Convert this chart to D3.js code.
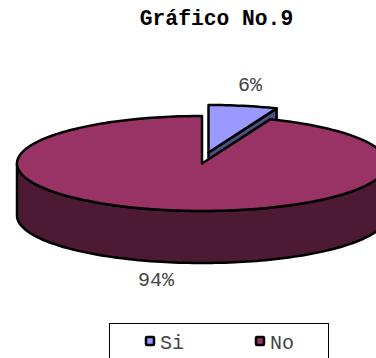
<!DOCTYPE html>
<html>
<head>
<meta charset="utf-8">
<script src="https://cdn.jsdelivr.net/npm/d3@7"></script>
<style>
html,body{margin:0;padding:0;background:#fff;overflow:hidden}
svg{display:block}
text{font-family:"Liberation Mono",monospace}
</style>
</head>
<body>
<svg id="chart" width="376" height="358"></svg>
<script>
const chartTitle = "Gráfico No.9";
const categories = ["Si", "No"];
const values = [6, 94];
const topColors = ["#9999FF", "#993366"];
const sideColors = ["#4D4D80", "#4D1A33"];

const svg = d3.select("#chart");

// Tilted-disc projection: unit circle coordinates mapped to screen pixels.
const cx = 202, cy = 163.5, rx = 185, ry = 47.5, depth = 52;
const xScale = d3.scaleLinear().domain([-1, 1]).range([cx - rx, cx + rx]);
const yScale = d3.scaleLinear().domain([-1, 1]).range([cy + ry, cy - ry]);

const pie = d3.pie().sort(null).value(d => d);
const arcs = pie(values);

const line = d3.line();
const rimPoint = (a, dx, dy) => [xScale(Math.sin(a)) + dx, yScale(Math.cos(a)) + dy];
const rim = (a0, a1, dx, dy) => {
  const n = Math.max(2, Math.ceil(Math.abs(a1 - a0) * 40));
  return d3.range(n + 1).map(i => rimPoint(a0 + (a1 - a0) * i / n, dx, dy));
};

const paint = (d, fill) => svg.append("path")
  .attr("d", d)
  .attr("fill", fill)
  .attr("stroke", "#000")
  .attr("stroke-width", 2.5)
  .attr("stroke-linejoin", "round");

// Slice "Si" is pulled out from the disc.
const si = arcs[0], no = arcs[1];
const ox = 6.5, oy = -11;
const siEdge = rimPoint(si.endAngle, ox, oy);
paint(line([[cx + ox, cy + oy], siEdge, [siEdge[0], siEdge[1] + depth], [cx + ox, cy + oy + depth]]) + "Z", sideColors[0]);
paint(line([[cx + ox, cy + oy], ...rim(si.startAngle, si.endAngle, ox, oy)]) + "Z", topColors[0]);

// Visible wall of slice "No": the front half of the rim, extruded downward.
const wallTop = rim(Math.PI / 2, 3 * Math.PI / 2, 0, 0);
const wallBottom = rim(3 * Math.PI / 2, Math.PI / 2, 0, depth);
paint(line([...wallTop, ...wallBottom]) + "Z", sideColors[1]);
paint(line([[cx, cy], ...rim(no.startAngle, no.endAngle, 0, 0)]) + "Z", topColors[1]);

// Title and percentage labels.
svg.append("text").text(chartTitle)
  .attr("x", 216.5).attr("y", 25).attr("text-anchor", "middle")
  .attr("font-size", 21.3).attr("font-weight", "bold").attr("fill", "#000");

const labelPos = [[250, 91], [156, 286]];
svg.selectAll("text.pct").data(arcs).join("text")
  .attr("class", "pct")
  .text(d => Math.round(d.value) + "%")
  .attr("x", (d, i) => labelPos[i][0])
  .attr("y", (d, i) => labelPos[i][1])
  .attr("text-anchor", "middle")
  .attr("font-size", 20)
  .attr("fill", "#444");

// Legend box runs off the bottom edge of the page.
svg.append("rect")
  .attr("x", 109.5).attr("y", 323.5).attr("width", 219).attr("height", 60)
  .attr("fill", "#fff").attr("stroke", "#000");

const legendX = [146, 256];
const legend = svg.selectAll("g.item").data(categories).join("g")
  .attr("class", "item")
  .attr("transform", (d, i) => `translate(${legendX[i]},337)`);
legend.append("rect")
  .attr("width", 8).attr("height", 8).attr("rx", 1)
  .attr("fill", (d, i) => topColors[i])
  .attr("stroke", "#000").attr("stroke-width", 2.5);
legend.append("text").text(d => d)
  .attr("x", 14).attr("y", 12)
  .attr("font-size", 20).attr("fill", "#444");
</script>
</body>
</html>
